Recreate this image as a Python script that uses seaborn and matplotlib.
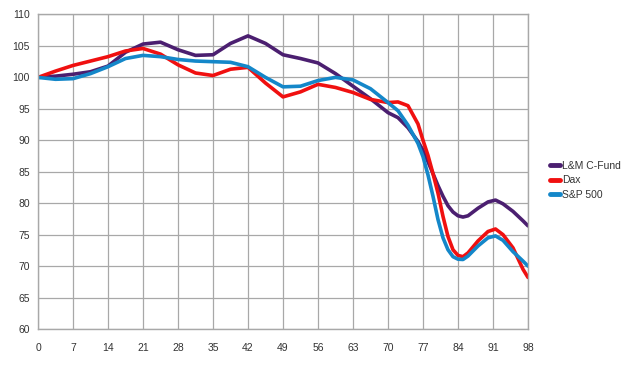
import pandas as pd
import matplotlib
matplotlib.use("Agg")
import matplotlib.pyplot as plt
import seaborn as sns

# values (index, start = 100)
days = [0, 3.5, 7, 10.5, 14, 17.5, 21, 24.5, 28, 31.5, 35, 38.5, 42, 45.5, 49,
        52.5, 56, 59.5, 63, 66.5, 70, 72, 74, 76, 77, 78, 79, 80, 81, 82, 83,
        84, 85, 86, 88, 90, 91.5, 93, 95, 97, 98]

lm_cfund = [100, 100.2, 100.5, 100.9, 101.8, 104.0, 105.3, 105.6, 104.4, 103.5,
            103.6, 105.4, 106.6, 105.4, 103.6, 103.0, 102.3, 100.6, 98.6, 96.6,
            94.4, 93.6, 92.0, 89.8, 88.4, 86.6, 84.7, 82.8, 81.1, 79.6, 78.6,
            78.0, 77.8, 78.0, 79.2, 80.2, 80.5, 79.9, 78.7, 77.2, 76.4]

dax = [100, 101.0, 101.9, 102.6, 103.3, 104.2, 104.6, 103.7, 102.0, 100.7,
       100.3, 101.3, 101.6, 99.1, 96.9, 97.7, 98.9, 98.4, 97.6, 96.5,
       96.0, 96.1, 95.5, 92.6, 90.0, 87.6, 84.7, 81.6, 77.9, 74.7, 72.6,
       71.7, 71.5, 72.1, 74.0, 75.5, 75.9, 75.0, 72.9, 69.5, 68.2]

sp500 = [100, 99.7, 99.8, 100.6, 101.7, 103.0, 103.5, 103.3, 102.85, 102.6,
         102.5, 102.4, 101.7, 100.0, 98.5, 98.6, 99.5, 100.0, 99.6, 98.2,
         96.0, 94.7, 92.4, 89.5, 87.4, 84.5, 81.1, 77.4, 74.5, 72.6, 71.5,
         71.1, 71.05, 71.6, 73.2, 74.5, 74.8, 74.1, 72.3, 70.8, 70.0]

series_names = ["L&M C-Fund", "Dax", "S&P 500"]
colors = ["#4b1f70", "#f01010", "#1487c9"]

x_ticks = list(range(0, 99, 7))
y_ticks = list(range(60, 111, 5))

df = pd.concat([
    pd.DataFrame({"day": days, "value": vals, "series": name})
    for name, vals in zip(series_names, [lm_cfund, dax, sp500])
])

sns.set_style("white")
plt.rcParams["font.family"] = ["Liberation Sans", "DejaVu Sans"]

fig = plt.figure(figsize=(6.41, 3.67), dpi=100)
ax = fig.add_axes([0.0593, 0.1035, 0.7644, 0.857])

sns.lineplot(data=df, x="day", y="value", hue="series", hue_order=series_names,
             palette=colors, linewidth=2.6, ax=ax, sort=True, legend=False,
             solid_joinstyle="round", solid_capstyle="round")

grid_col = "#a8a8a8"
ax.set_xlim(0, 98)
ax.set_ylim(60, 110)
ax.set_xticks(x_ticks)
ax.set_yticks(y_ticks)
ax.grid(True, color=grid_col, linewidth=0.9)
ax.set_axisbelow(True)
for s in ax.spines.values():
    s.set_color(grid_col)
    s.set_linewidth(1.0)
ax.tick_params(axis="both", length=4, width=0.9, color=grid_col,
               labelsize=7.5, labelcolor="#333333", pad=2, direction="out")
ax.tick_params(axis="x", pad=6)
ax.set_xlabel("")
ax.set_ylabel("")

handles = [plt.Line2D([0], [0], color=c, linewidth=3.5) for c in colors]
fig.legend(handles, series_names, loc="center left",
           bbox_to_anchor=(0.843, 0.509), frameon=False, fontsize=7.5,
           handlelength=1.0, handletextpad=0.15, labelspacing=0.45,
           labelcolor="#333333")

fig.savefig("out.png", dpi=100)
